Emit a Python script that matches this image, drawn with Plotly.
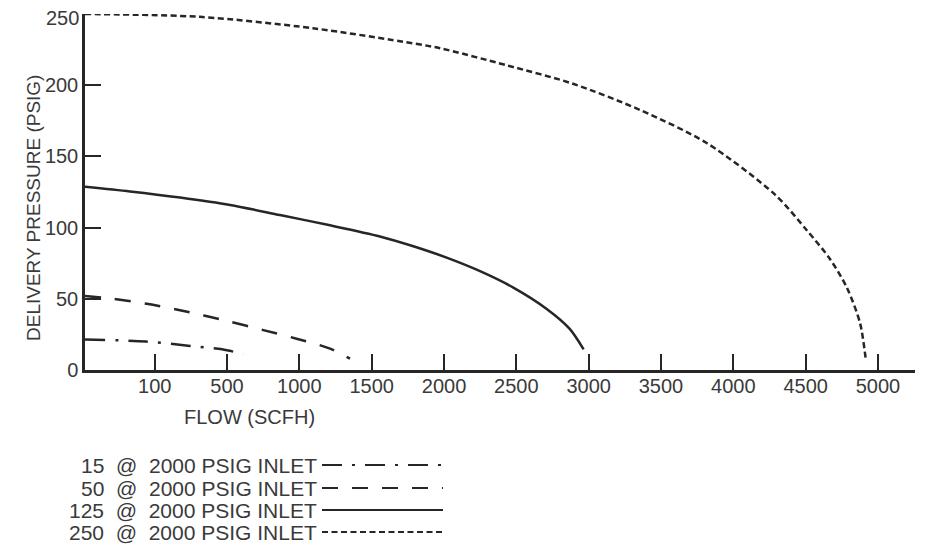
import plotly.graph_objects as go

# ---------------- data ----------------
flow_15 = [-482, -60, 245, 466, 611]
pres_15 = [21.4, 20.0, 16.9, 14.5, 11.2]

flow_50 = [-482, -286, -55, 175, 520, 751, 981, 1212, 1350]
pres_50 = [52.0, 50.0, 46.5, 42.0, 34.0, 28.0, 22.0, 15.0, 8.0]

flow_125 = [-482, -171, 175, 521, 866, 1212, 1557, 1788, 2018, 2249, 2479, 2710, 2869, 2965]
pres_125 = [128.7, 125.4, 121.1, 115.9, 108.8, 101.6, 93.8, 86.9, 78.9, 69.4, 57.9, 42.9, 28.9, 14.5]

flow_250 = [-482, 313, 1094, 1785, 1972, 2433, 2892, 3355, 3816, 4290, 4509, 4668, 4786, 4876, 4915]
pres_250 = [250.0, 248.0, 240.0, 229.4, 226.0, 214.0, 201.0, 182.6, 159.4, 123.0, 98.0, 78.0, 57.6, 33.0, 8.0]

x_tick_positions = [0, 500, 1000, 1500, 2000, 2500, 3000, 3500, 4000, 4500, 5000]
x_tick_labels = ["100", "500", "1000", "1500", "2000", "2500", "3000", "3500", "4000", "4500", "5000"]
y_tick_values = [0, 50, 100, 150, 200, 250]
y_tick_labels = ["0", "50", "100", "150", "200", "250"]

series_names = ["15\u00a0 @\u00a0 2000 PSIG INLET", "50\u00a0 @\u00a0 2000 PSIG INLET",
                "125\u00a0 @\u00a0 2000 PSIG INLET", "250\u00a0 @\u00a0 2000 PSIG INLET"]

# ---------------- styling ----------------
OFF = 8                      # page body margin of the html page
W, H = 925 - OFF, 546 - OFF
L, R, T, B = 85 - OFF, 10, 14 - OFF, 176
PW, PH = W - L - R, H - T - B
FONT = "Liberation Sans"
INK = "#262626"
TXT = "#3a3a3a"
dashes = ["20px,10px,3px,10px", "16px,14px", "solid", "6px,3.5px"]

fig = go.Figure()
series = [(flow_15, pres_15), (flow_50, pres_50), (flow_125, pres_125), (flow_250, pres_250)]
for (xs, ys), name, d in zip(series, series_names, dashes):
    fig.add_trace(go.Scatter(x=xs, y=ys, mode="lines", name=name,
                             line=dict(color=INK, width=2.5, dash=d, shape="spline", smoothing=0.8),
                             showlegend=False, hoverinfo="skip", cliponaxis=False))

def px_x(p):  # reference screen pixel -> paper x
    return (p - OFF - L) / PW

def px_y(p):  # reference screen pixel -> paper y
    return (H - B - (p - OFF)) / PH

# the top tick label sits at the very edge of the page: draw it a little lower as text
shown_labels = y_tick_labels[:-1] + [""]
fig.add_annotation(x=px_x(81), y=px_y(18), xref="paper", yref="paper",
                   text=y_tick_labels[-1], showarrow=False, xanchor="right", yanchor="middle",
                   font=dict(family=FONT, size=20, color=TXT))

# legend drawn as text + sample lines (text on the left, line on the right)
leg_rows = [465, 488, 510, 532]
for name, d, ry in zip(series_names, dashes, leg_rows):
    fig.add_annotation(x=px_x(319), y=px_y(ry), xref="paper", yref="paper",
                       text=name, showarrow=False, xanchor="right", yanchor="middle",
                       font=dict(family=FONT, size=21, color=TXT))
    fig.add_shape(type="line", xref="paper", yref="paper",
                  x0=px_x(322), x1=px_x(443), y0=px_y(ry), y1=px_y(ry),
                  line=dict(color=INK, width=2.2, dash=d))

# axis titles
fig.add_annotation(x=px_x(249), y=px_y(417), xref="paper", yref="paper",
                   text="FLOW (SCFH)", showarrow=False, xanchor="center", yanchor="middle",
                   font=dict(family=FONT, size=20, color=TXT))
fig.add_annotation(x=px_x(33), y=px_y(208), xref="paper", yref="paper",
                   text="DELIVERY PRESSURE (PSIG)", showarrow=False, textangle=-90,
                   xanchor="center", yanchor="middle",
                   font=dict(family=FONT, size=19, color=TXT))

fig.update_layout(
    width=W, height=H,
    margin=dict(l=L, r=R, t=T, b=B, pad=0, autoexpand=False),
    paper_bgcolor="white", plot_bgcolor="white",
    font=dict(family=FONT, size=20, color=TXT),
    xaxis=dict(range=[-482, 5256], tickvals=x_tick_positions, ticktext=x_tick_labels,
               showgrid=False, zeroline=False, showline=True, linecolor=INK, linewidth=2.5,
               ticks="inside", ticklen=16, tickwidth=2, tickcolor=INK, automargin=False,
               ticklabelstandoff=-4, ticklabeloverflow="allow",
               tickfont=dict(family=FONT, size=20, color=TXT)),
    yaxis=dict(range=[0, 250], tickvals=y_tick_values, ticktext=shown_labels,
               showgrid=False, zeroline=False, showline=True, linecolor=INK, linewidth=2.5,
               ticks="inside", ticklen=16, tickwidth=2, tickcolor=INK, automargin=False,
               ticklabeloverflow="allow",
               tickfont=dict(family=FONT, size=20, color=TXT)),
)

fig.write_html("out.html")
